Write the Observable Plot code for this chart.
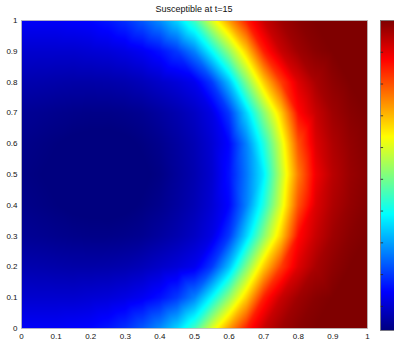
<!DOCTYPE html>
<html>
<head>
<meta charset="utf-8">
<script src="https://cdn.jsdelivr.net/npm/d3@7"></script>
<script src="https://cdn.jsdelivr.net/npm/@observablehq/plot@0.6"></script>
<style>
  html, body { margin: 0; padding: 0; background: #fff; }
  #wrap { position: relative; width: 394px; height: 343px; overflow: hidden; font-family: "Liberation Sans", Arial, sans-serif; }
  #title { position: absolute; left: 21px; width: 346px; top: 4px; text-align: center; font-size: 9px; color: #111; }
  #main { position: absolute; left: 0; top: 0; }
  #cbar { position: absolute; left: 380px; top: 0; }
</style>
</head>
<body>
<div id="wrap">
  <div id="main"></div>
  <div id="cbar"></div>
  <div id="title">Susceptible at t=15</div>
</div>
<script>
// Grid sample positions
const xGrid = [0, 0.05, 0.1, 0.15, 0.2, 0.25, 0.3, 0.35, 0.4, 0.45, 0.5, 0.55, 0.6, 0.65, 0.7, 0.75, 0.8, 0.85, 0.9, 0.95, 1];
const yGrid = [1.0, 0.9, 0.8, 0.7, 0.6, 0.5, 0.4, 0.3, 0.2, 0.1, 0.0];

// Susceptible values, one row per y (top to bottom)
const row_y10 = [0.14, 0.14, 0.14, 0.145, 0.15, 0.165, 0.19, 0.23, 0.28, 0.35, 0.45, 0.6, 0.73, 0.85, 0.93, 0.97, 0.99, 1.0, 1.0, 1.0, 1.0];
const row_y09 = [0.1, 0.1, 0.1, 0.1, 0.105, 0.11, 0.12, 0.135, 0.16, 0.2, 0.27, 0.39, 0.53, 0.68, 0.85, 0.93, 0.97, 0.99, 1.0, 1.0, 1.0];
const row_y08 = [0.07, 0.068, 0.065, 0.063, 0.063, 0.065, 0.07, 0.08, 0.095, 0.11, 0.13, 0.2, 0.33, 0.51, 0.68, 0.82, 0.91, 0.96, 0.985, 1.0, 1.0];
const row_y07 = [0.045, 0.042, 0.038, 0.035, 0.033, 0.033, 0.036, 0.042, 0.055, 0.07, 0.09, 0.12, 0.2, 0.35, 0.52, 0.68, 0.87, 0.93, 0.97, 0.99, 1.0];
const row_y06 = [0.035, 0.03, 0.025, 0.02, 0.018, 0.017, 0.02, 0.027, 0.038, 0.055, 0.075, 0.105, 0.15, 0.27, 0.42, 0.6, 0.8, 0.91, 0.955, 0.98, 0.995];
const row_y05 = [0.03, 0.025, 0.02, 0.015, 0.012, 0.01, 0.012, 0.02, 0.03, 0.05, 0.07, 0.1, 0.16, 0.26, 0.375, 0.57, 0.76, 0.89, 0.945, 0.975, 0.99];
const row_y04 = [0.035, 0.03, 0.025, 0.02, 0.018, 0.017, 0.02, 0.027, 0.038, 0.055, 0.075, 0.105, 0.15, 0.27, 0.42, 0.6, 0.8, 0.91, 0.955, 0.98, 0.995];
const row_y03 = [0.045, 0.042, 0.038, 0.035, 0.033, 0.033, 0.036, 0.042, 0.055, 0.07, 0.09, 0.12, 0.2, 0.35, 0.52, 0.68, 0.87, 0.93, 0.97, 0.99, 1.0];
const row_y02 = [0.07, 0.068, 0.065, 0.063, 0.063, 0.065, 0.07, 0.08, 0.095, 0.11, 0.13, 0.2, 0.33, 0.51, 0.68, 0.82, 0.91, 0.96, 0.985, 1.0, 1.0];
const row_y01 = [0.1, 0.1, 0.1, 0.1, 0.105, 0.11, 0.12, 0.135, 0.16, 0.2, 0.27, 0.39, 0.53, 0.68, 0.85, 0.93, 0.97, 0.99, 1.0, 1.0, 1.0];
const row_y00 = [0.14, 0.14, 0.14, 0.145, 0.15, 0.165, 0.19, 0.23, 0.28, 0.35, 0.45, 0.6, 0.73, 0.85, 0.93, 0.97, 0.99, 1.0, 1.0, 1.0, 1.0];
const rows = [row_y10, row_y09, row_y08, row_y07, row_y06, row_y05, row_y04, row_y03, row_y02, row_y01, row_y00];

// Axis tick labels
const axisTicks = [0, 0.1, 0.2, 0.3, 0.4, 0.5, 0.6, 0.7, 0.8, 0.9, 1];
const colorbarTicks = [0.1, 0.2, 0.3, 0.4, 0.5, 0.6, 0.7, 0.8, 0.9];
const colorDomain = [0.024, 1];

// Build table
const table = [];
rows.forEach((r, i) => r.forEach((v, j) => table.push({x: xGrid[j], y: yGrid[i], v})));

// MATLAB "jet" colormap
const jetStops = d3.scaleLinear()
  .domain([0, 0.125, 0.375, 0.625, 0.875, 1])
  .range(["#00007f", "#0000ff", "#00ffff", "#ffff00", "#ff0000", "#7f0000"])
  .interpolate(d3.interpolateRgb)
  .clamp(true);
const jet = t => jetStops(t);

const colorOpts = {type: "linear", domain: colorDomain, interpolate: jet, clamp: true};

const main = Plot.plot({
  width: 375,
  height: 343,
  marginLeft: 21,
  marginRight: 8,
  marginTop: 20,
  marginBottom: 15,
  style: {fontFamily: "Liberation Sans, Arial, sans-serif", fontSize: "8px", color: "#111", background: "transparent"},
  x: {domain: [0, 1]},
  y: {domain: [0, 1]},
  color: colorOpts,
  marks: [
    Plot.raster(table, {x: "x", y: "y", fill: "v", x1: 0, x2: 1, y1: 0, y2: 1, interpolate: "barycentric", imageRendering: "auto"}),
    Plot.frame({stroke: "#bbb", strokeWidth: 0.8}),
    Plot.axisX({ticks: axisTicks, tickSize: 0, tickPadding: 5, label: null, tickFormat: d => String(d)}),
    Plot.axisY({ticks: axisTicks, tickSize: 0, tickPadding: 4, label: null, tickFormat: d => String(d)})
  ]
});
document.getElementById("main").appendChild(main);

const cbar = Plot.plot({
  width: 14,
  height: 343,
  marginLeft: 0,
  marginRight: 0,
  marginTop: 20,
  marginBottom: 13,
  style: {background: "transparent"},
  x: {domain: [0, 1], axis: null},
  y: {domain: colorDomain, axis: null},
  color: colorOpts,
  marks: [
    Plot.raster({fill: (x, y) => y, x1: 0, x2: 1, y1: colorDomain[0], y2: colorDomain[1]}),
    Plot.ruleY(colorbarTicks, {y: d => d, x1: 0, x2: 0.22, stroke: "#222", strokeWidth: 0.8}),
    Plot.frame({stroke: "#777", strokeWidth: 0.8})
  ]
});
document.getElementById("cbar").appendChild(cbar);
</script>
</body>
</html>
